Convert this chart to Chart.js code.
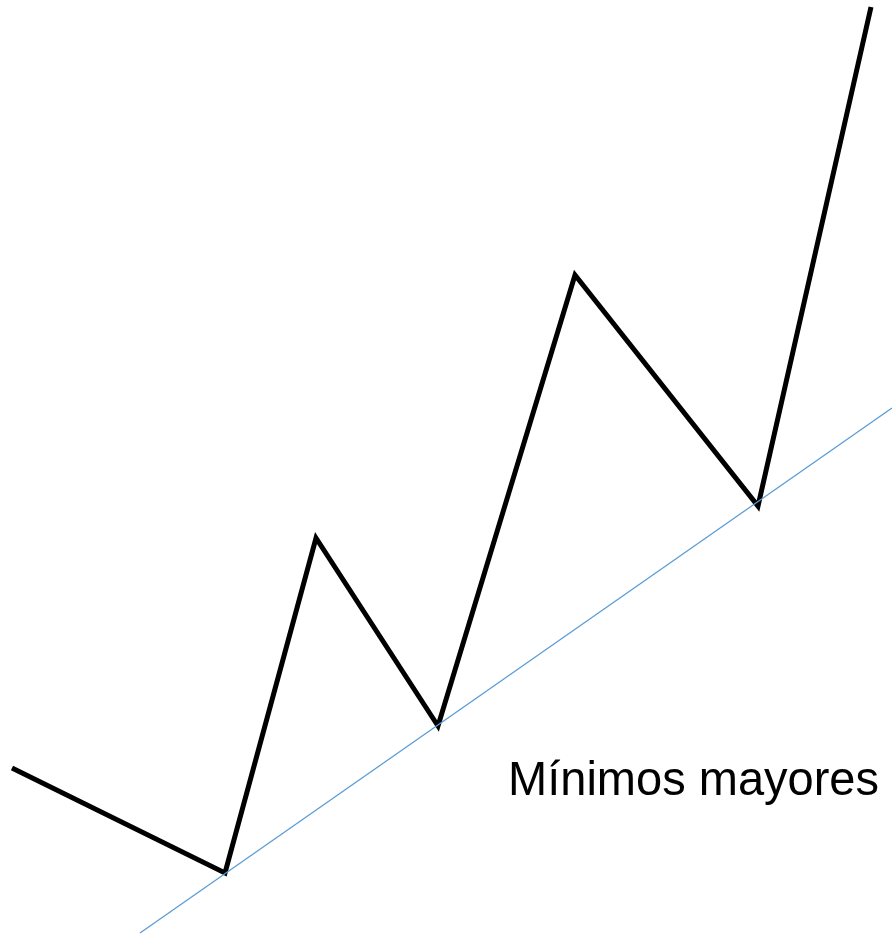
<!DOCTYPE html>
<html>
<head>
<meta charset="utf-8">
<script src="https://cdn.jsdelivr.net/npm/chart.js@4"></script>
<style>
  html, body { margin: 0; padding: 0; background: #ffffff; }
  #wrap { position: relative; width: 892px; height: 935px; }
</style>
</head>
<body>
<div id="wrap"><canvas id="c"></canvas></div>
<script>
// Price path (zigzag) values
const priceX = [12, 225, 316, 438, 575, 758, 871];
const priceY = [167, 62, 397, 209, 660, 429, 928];
// Trendline through higher lows
const trendX = [140, 892];
const trendY = [2, 527];
// Annotation
const labelText = 'Mínimos mayores';
const labelPos = [508, 140];

const toPts = (xs, ys) => xs.map((x, i) => ({ x: x, y: ys[i] }));

const labelPlugin = {
  id: 'labelPlugin',
  afterDatasetsDraw(chart) {
    const { ctx, scales } = chart;
    const px = scales.x.getPixelForValue(labelPos[0]);
    const py = scales.y.getPixelForValue(labelPos[1]);
    ctx.save();
    ctx.font = '48px "Liberation Sans", Arial, sans-serif';
    ctx.fillStyle = '#000000';
    ctx.textAlign = 'left';
    ctx.textBaseline = 'alphabetic';
    const w = ctx.measureText(labelText).width;
    const sx = 371 / w;
    ctx.translate(px, py);
    ctx.scale(sx, 1);
    ctx.fillText(labelText, 0, 0);
    ctx.restore();
  }
};

new Chart(document.getElementById('c'), {
  type: 'line',
  data: {
    datasets: [
      {
        data: toPts(trendX, trendY),
        borderColor: '#5B9BD5',
        borderWidth: 1.3,
        pointRadius: 0,
        tension: 0,
        clip: false
      },
      {
        data: toPts(priceX, priceY),
        borderColor: '#000000',
        borderWidth: 5,
        borderJoinStyle: 'miter',
        borderCapStyle: 'butt',
        pointRadius: 0,
        tension: 0,
        clip: false
      }
    ]
  },
  options: {
    responsive: true,
    maintainAspectRatio: false,
    animation: false,
    layout: { padding: 0 },
    plugins: { legend: { display: false }, tooltip: { enabled: false } },
    scales: {
      x: { type: 'linear', min: 0, max: 892, display: false },
      y: { type: 'linear', min: 0, max: 935, display: false }
    }
  },
  plugins: [labelPlugin]
});
</script>
</body>
</html>
